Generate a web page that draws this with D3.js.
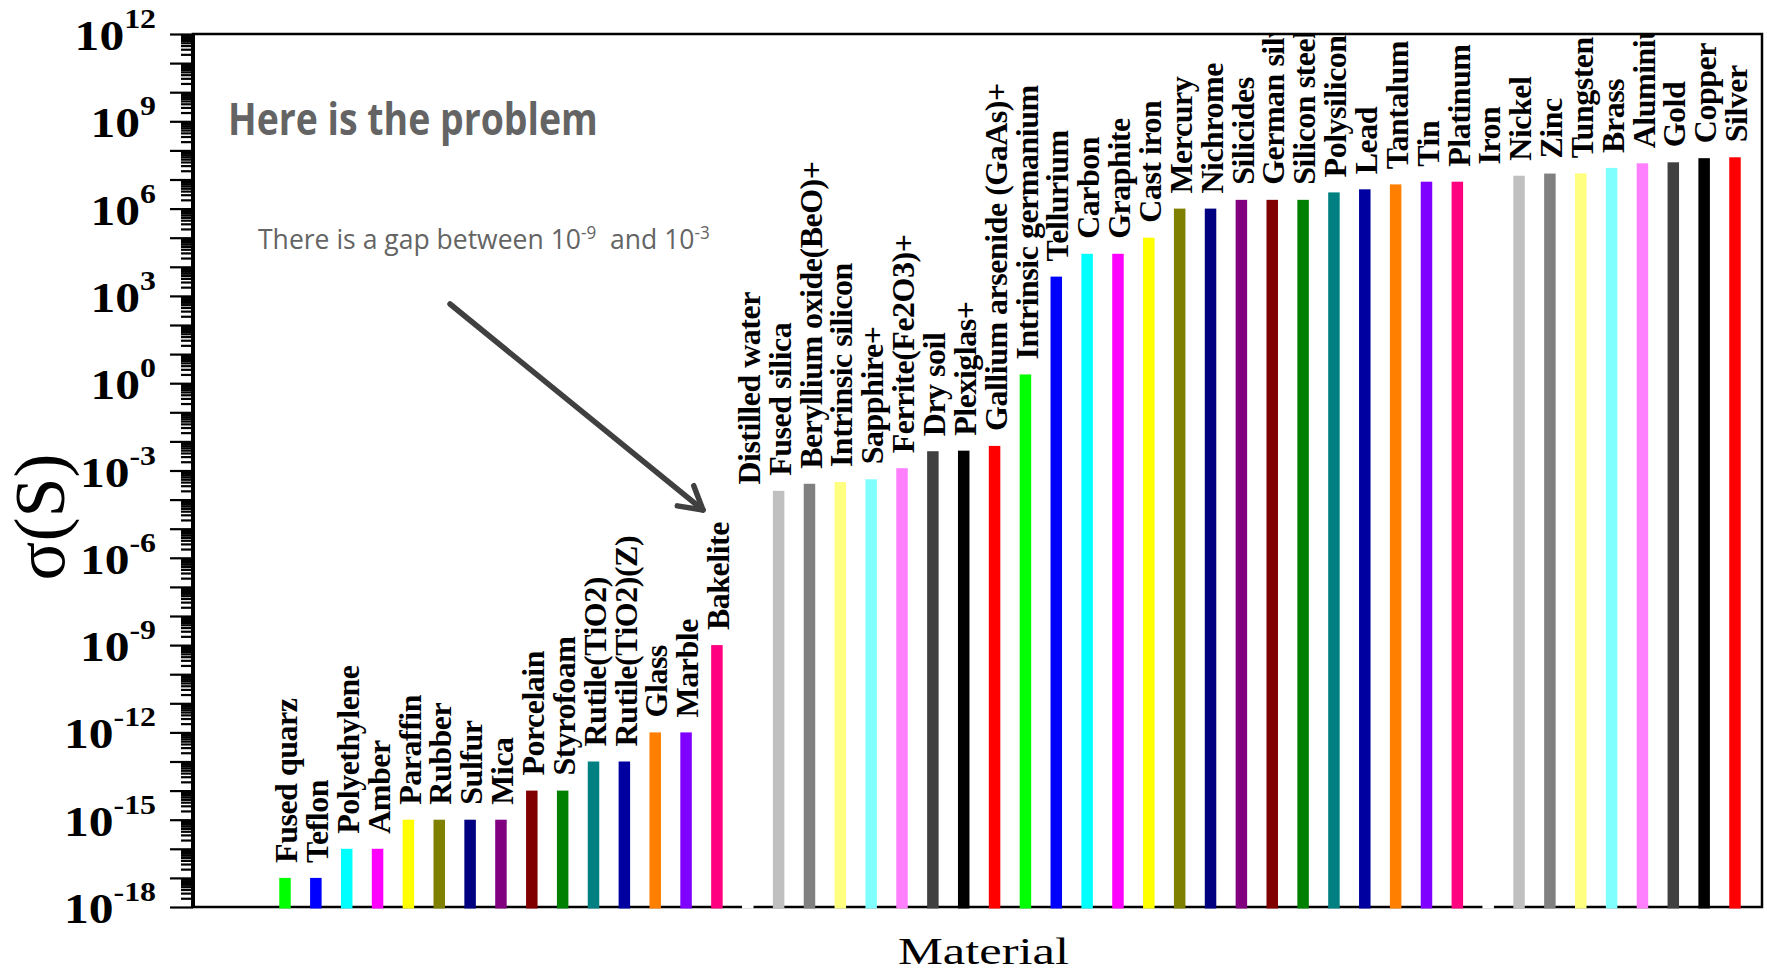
<!DOCTYPE html>
<html>
<head>
<meta charset="utf-8">
<script src="https://cdn.jsdelivr.net/npm/d3@7"></script>
<style>
  html, body { margin: 0; padding: 0; background: #fff; }
  svg { display: block; }
</style>
</head>
<body>
<svg id="chart" width="1767" height="974"></svg>
<script>
// Conductivity of materials, log scale bars (Origin-style plot).

// ─── Data ────────────────────────────────────────────────────────────────
const materials = [
  "Fused quarz", "Teflon", "Polyethylene", "Amber", "Paraffin", "Rubber",
  "Sulfur", "Mica", "Porcelain", "Styrofoam", "Rutile(TiO2)", "Rutile(TiO2)(Z)",
  "Glass", "Marble", "Bakelite", "Distilled water", "Fused silica",
  "Beryllium oxide(BeO)+", "Intrinsic silicon", "Sapphire+", "Ferrite(Fe2O3)+",
  "Dry soil", "Plexiglas+", "Gallium arsenide (GaAs)+", "Intrinsic germanium",
  "Tellurium", "Carbon", "Graphite", "Cast iron", "Mercury", "Nichrome",
  "Silicides", "German silver", "Silicon steel", "Polysilicon", "Lead",
  "Tantalum", "Tin", "Platinum", "Iron", "Nickel", "Zinc", "Tungsten", "Brass",
  "Aluminium", "Gold", "Copper", "Silver"
];
const conductivity = [
  1e-17, 1e-17, 1e-16, 1e-16, 1e-15, 1e-15,
  1e-15, 1e-15, 1e-14, 1e-14, 1e-13, 1e-13,
  1e-12, 1e-12, 1e-9, 1e-4, 2e-4,
  3.5e-4, 4e-4, 5e-4, 1.2e-3,
  4.6e-3, 4.8e-3, 7e-3, 2,
  4.6e3, 2.8e4, 2.8e4, 1e5, 1e6, 1e6,
  2e6, 2e6, 2e6, 3.6e6, 4.6e6,
  6.8e6, 8.4e6, 8.4e6, 1e7, 1.35e7, 1.6e7, 1.63e7, 2.5e7,
  3.6e7, 3.9e7, 5.4e7, 5.8e7
];
const yLabelExps = [12, 9, 6, 3, 0, -3, -6, -9, -12, -15, -18];

// Origin default colour cycle; the series starts at its 3rd entry (Green)
const PALETTE = [
  "#000000", "#FF0000", "#00FF00", "#0000FF", "#00FFFF", "#FF00FF",
  "#FFFF00", "#808000", "#000080", "#800080", "#800000", "#008000",
  "#008080", "#0000A0", "#FF8000", "#8000FF", "#FF0080", "#FFFFFF",
  "#C0C0C0", "#808080", "#FFFF80", "#80FFFF", "#FF80FF", "#404040"
];
const COLOR_OFFSET = 2;

// ─── Layout ──────────────────────────────────────────────────────────────
const W = 1767, H = 974;
const M = { left: 193, top: 34, right: 5, bottom: 67 };
const plotR = W - M.right, plotB = H - M.bottom;
const SERIF = "'Liberation Serif', 'Times New Roman', serif";
const SANS = "'Open Sans', 'Noto Sans', sans-serif";

const svg = d3.select("#chart");

const x = d3.scalePoint()
  .domain(materials)
  .range([M.left + 92, plotR - 27]);

const y = d3.scaleLog()
  .domain([1e-18, 1e12])
  .range([plotB, M.top]);

const data = materials.map((name, i) => ({
  name, value: conductivity[i], color: PALETTE[(i + COLOR_OFFSET) % PALETTE.length]
}));

// stretch a text element horizontally to a target width
function fitWidth(sel, tx, ty, target) {
  const w = sel.node().getBBox().width;
  sel.attr("transform", `translate(${tx},${ty}) scale(${target / w},1)`);
}

svg.append("defs").append("clipPath").attr("id", "plot-clip")
  .append("rect")
  .attr("x", M.left).attr("y", M.top)
  .attr("width", plotR - M.left).attr("height", plotB - M.top);

// ─── Frame + axes ────────────────────────────────────────────────────────
svg.append("rect")
  .attr("x", M.left).attr("y", M.top)
  .attr("width", plotR - M.left).attr("height", plotB - M.top)
  .attr("fill", "none").attr("stroke", "#000").attr("stroke-width", 2.5);

svg.append("line")
  .attr("x1", M.left).attr("x2", M.left)
  .attr("y1", M.top).attr("y2", plotB)
  .attr("stroke", "#000").attr("stroke-width", 4);

const majors = d3.range(-18, 13).map(e => Math.pow(10, e));
const minors = [];
d3.range(-18, 12).forEach(e => {
  for (let k = 2; k <= 9; k++) minors.push(k * Math.pow(10, e));
});

const gMinor = svg.append("g")
  .attr("transform", `translate(${M.left},0)`)
  .call(d3.axisLeft(y).tickValues(minors).tickSize(12).tickFormat(""));
const gMajor = svg.append("g")
  .attr("transform", `translate(${M.left},0)`)
  .call(d3.axisLeft(y).tickValues(majors).tickSize(23).tickFormat(""));
[gMinor, gMajor].forEach(g => {
  g.select(".domain").remove();
  g.selectAll(".tick line").attr("stroke", "#000").attr("stroke-width", 2.2);
});

// y labels: 10 with superscript exponent, slightly stretched like the original
const yLab = svg.append("g").attr("class", "y-labels");
yLabelExps.forEach(e => {
  const t = yLab.append("text")
    .attr("transform", `translate(${M.left - 37},${y(Math.pow(10, e)) + 16}) scale(1.18,1)`)
    .attr("text-anchor", "end")
    .attr("font-family", SERIF)
    .attr("font-weight", "bold")
    .attr("font-size", 42)
    .attr("fill", "#000");
  t.append("tspan").text("10");
  t.append("tspan").attr("dy", -22).attr("font-size", 27).text(e < 0 ? "-" + (-e) : e);
});

// axis titles
svg.append("text")
  .attr("transform", `translate(64,517) rotate(-90)`)
  .attr("text-anchor", "middle")
  .attr("font-family", SERIF)
  .attr("font-size", 72)
  .text("σ(S)");

const xTitle = svg.append("text")
  .attr("font-family", SERIF)
  .attr("font-size", 38)
  .text("Material");
fitWidth(xTitle, 898, 964, 171);

// ─── Bars + labels ───────────────────────────────────────────────────────
const BAR_W = 11.5;
const plot = svg.append("g").attr("clip-path", "url(#plot-clip)");

svg.append("g").selectAll("rect")
  .data(data)
  .join("rect")
    .attr("x", d => x(d.name) - BAR_W / 2)
    .attr("y", d => y(d.value))
    .attr("width", BAR_W)
    .attr("height", d => plotB + 1.5 - y(d.value))
    .attr("fill", d => d.color);

plot.selectAll("text")
  .data(data)
  .join("text")
    .attr("transform", d => `translate(${x(d.name)},${y(d.value) - 15}) rotate(-90)`)
    .attr("dy", "0.38em")
    .attr("font-family", SERIF)
    .attr("font-weight", "bold")
    .attr("font-size", 32)
    .attr("letter-spacing", -0.5)
    .attr("fill", "#000")
    .text(d => d.name);

// ─── Annotation ──────────────────────────────────────────────────────────
const head = svg.append("text")
  .attr("font-family", SANS)
  .attr("font-weight", "bold")
  .attr("font-size", 45)
  .attr("fill", "#646464")
  .text("Here is the problem");
fitWidth(head, 228, 135, 370);

const note = svg.append("text")
  .attr("font-family", SANS)
  .attr("font-size", 28)
  .attr("fill", "#646464")
  .attr("xml:space", "preserve");
note.append("tspan").text("There is a gap between 10");
note.append("tspan").attr("dy", -10).attr("font-size", 18).text("-9");
note.append("tspan").attr("dy", 10).text("  and 10");
note.append("tspan").attr("dy", -10).attr("font-size", 18).text("-3");
fitWidth(note, 258, 249, 452);

const arrowFrom = [450, 304], arrowTo = [703, 510];
const ang = Math.atan2(arrowTo[1] - arrowFrom[1], arrowTo[0] - arrowFrom[0]);
const arm = 26, spread = Math.PI / 6;
const armPt = s => [arrowTo[0] - arm * Math.cos(ang + s), arrowTo[1] - arm * Math.sin(ang + s)];
const arrow = svg.append("g")
  .attr("stroke", "#404040").attr("stroke-width", 5.5)
  .attr("stroke-linecap", "round").attr("stroke-linejoin", "round").attr("fill", "none");
arrow.append("path").attr("d", d3.line()([arrowFrom, arrowTo]));
arrow.append("path").attr("d", d3.line()([armPt(spread), arrowTo, armPt(-spread)]));
</script>
</body>
</html>
